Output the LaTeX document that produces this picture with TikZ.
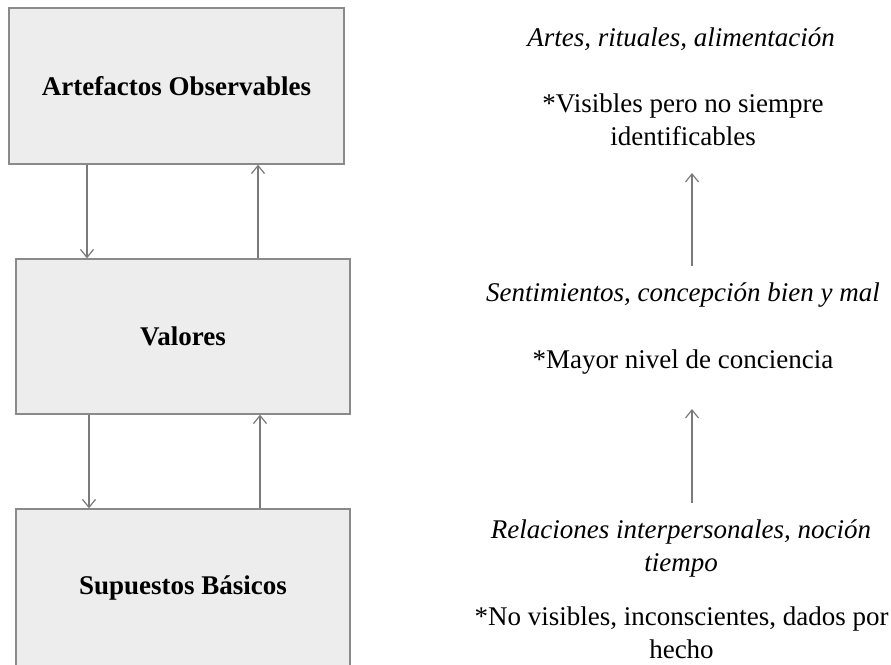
\documentclass[tikz,border=0pt]{standalone}
\usepackage{fontspec}
\setmainfont{Liberation Serif}
\usetikzlibrary{arrows.meta}
\definecolor{boxfill}{HTML}{EDEDED}
\definecolor{boxline}{HTML}{8A8A8A}
\definecolor{arrline}{HTML}{7A7A7A}
\begin{document}
\begin{tikzpicture}[x=1pt,y=-1pt,
  layer/.style={draw=boxline, fill=boxfill, line width=1.3pt, inner sep=0pt,
    font=\fontsize{27}{34}\selectfont\bfseries},
  arr/.style={draw=arrline, line width=1.2pt, -{Straight Barb[length=8pt,width=13pt,line width=1.2pt]}},
  note/.style={inner sep=0pt, align=center, font=\fontsize{27}{33}\selectfont},
  inote/.style={note, font=\fontsize{27}{33}\selectfont\itshape}]
\useasboundingbox (0,0) rectangle (891,664);
\node[layer, minimum width=335pt, minimum height=156pt] (a) at (176.5,86) {Artefactos Observables};
\node[layer, minimum width=334pt, minimum height=155pt] (b) at (183,336.5) {Valores};
\node[layer, minimum width=334pt, minimum height=158pt] (c) at (183,588) {Supuestos Básicos};
\draw[arr] ([xshift=-89.5pt]a.south) -- ([xshift=-89.5pt]a.south |- b.north);
\draw[arr] ([xshift=75pt]b.north) -- ([xshift=75pt]b.north |- a.south);
\draw[arr] ([xshift=-94pt]b.south) -- ([xshift=-94pt]b.south |- c.north);
\draw[arr] ([xshift=77pt]c.north) -- ([xshift=77pt]c.north |- b.south);
\node[inote] (t1) at (681,39) {Artes, rituales, alimentación};
\node[note] (t2) at (683,120) {*Visibles pero no siempre\\identificables};
\node[inote] (t3) at (683,295) {Sentimientos, concepción bien y mal};
\node[note] (t4) at (683,362) {*Mayor nivel de conciencia};
\node[inote] (t5) at (681,548.5) {Relaciones interpersonales, noción\\tiempo};
\node[note] (t6) at (681.5,633) {*No visibles, inconscientes, dados por\\hecho};
\coordinate (u1s) at (692,266);
\coordinate (u1e) at (692,173);
\coordinate (u2s) at (692,503);
\coordinate (u2e) at (692,409);
\draw[arr] (u1s) -- (u1e);
\draw[arr] (u2s) -- (u2e);
\end{tikzpicture}
\end{document}
